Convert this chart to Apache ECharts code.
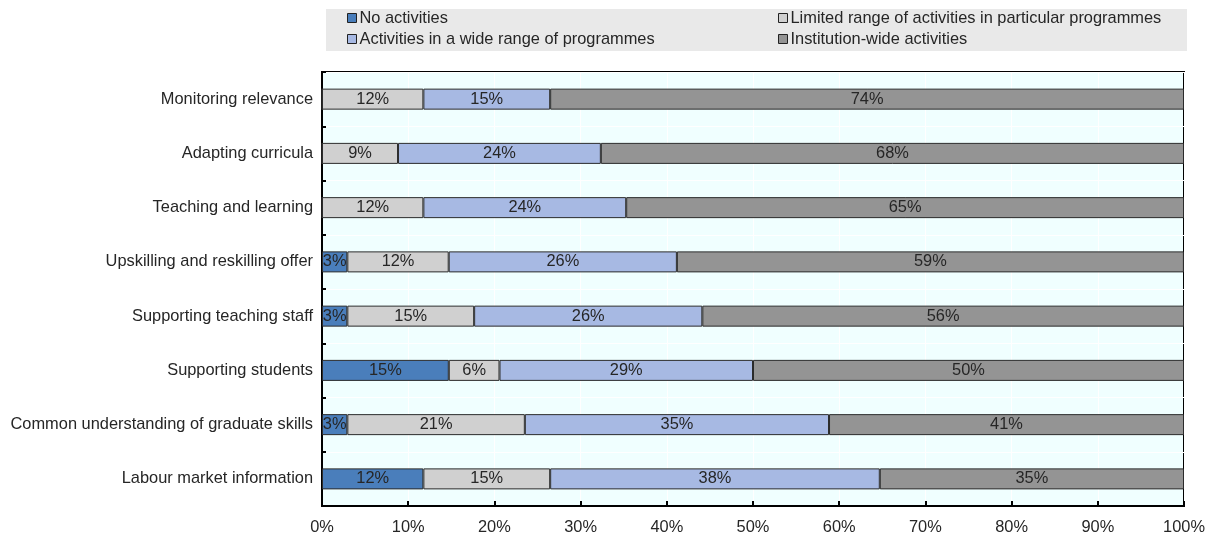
<!DOCTYPE html>
<html>
<head>
<meta charset="utf-8">
<script src="https://cdn.jsdelivr.net/npm/echarts@6/dist/echarts.min.js"></script>
<style>html,body{margin:0;padding:0;background:#fff}#c{width:1213px;height:540px}</style>
</head>
<body>
<div id="c"></div>
<script>
var categories = ["Monitoring relevance","Adapting curricula","Teaching and learning","Upskilling and reskilling offer","Supporting teaching staff","Supporting students","Common understanding of graduate skills","Labour market information"];
var seriesNames = ["No activities","Limited range of activities in particular programmes","Activities in a wide range of programmes","Institution-wide activities"];
var noActivities   = [0, 0, 0, 2.94, 2.94, 14.71, 2.94, 11.76];
var limitedRange   = [11.76, 8.82, 11.76, 11.76, 14.71, 5.88, 20.59, 14.71];
var wideRange      = [14.71, 23.53, 23.53, 26.47, 26.47, 29.41, 35.29, 38.24];
var institutionWide= [73.53, 67.65, 64.71, 58.82, 55.88, 50.00, 41.18, 35.29];
var xTicks = [0,10,20,30,40,50,60,70,80,90,100];

var colors = ["#4A7EBB","#D0D0D0","#A7B9E3","#949494"];
var FONT = "'Liberation Sans', Arial, sans-serif";
var FS = 16.4;
var valuesList = [noActivities, limitedRange, wideRange, institutionWide];

var chart = echarts.init(document.getElementById('c'));
var series = seriesNames.map(function(n,i){
  return {
    name: n, type: 'bar', stack: 'all', barWidth: 21,
    data: valuesList[i],
    itemStyle: {color: colors[i], borderColor: '#2b2b2b', borderWidth: 1},
    label: {show: true, position: 'inside', color: '#262626', fontFamily: FONT, fontSize: FS,
      formatter: function(p){ return p.value > 0 ? Math.round(p.value) + '%' : ''; }},
    emphasis: {disabled: true}
  };
});
var legendPos = [[347,10],[778,10],[347,31],[778,31]];
var legends = seriesNames.map(function(n,i){
  return {data:[n], left: legendPos[i][0], top: legendPos[i][1], padding: 0,
    icon: 'rect', itemWidth: 9, itemHeight: 9, itemGap: 0,
    itemStyle: {borderColor: '#222', borderWidth: 1},
    textStyle: {fontFamily: FONT, fontSize: FS, color: '#262626', padding: [0,0,0,-2]},
    selectedMode: false};
});
chart.setOption({
  animation: false,
  graphic: [{type: 'rect', shape: {x: 326, y: 9, width: 861, height: 42}, style: {fill: '#E9E9E9'}, z: -1}],
  legend: legends,
  grid: {left: 322, right: 29, top: 72, bottom: 34, show: true, backgroundColor: '#F0FFFF', borderColor: '#000', borderWidth: 2},
  xAxis: {type: 'value', min: 0, max: 100, interval: 10,
    axisLine: {show: true, lineStyle: {color: '#000', width: 2}},
    axisTick: {show: true, inside: true, length: 5, lineStyle: {color: '#000', width: 2}},
    splitLine: {show: true, lineStyle: {color: '#fff', width: 1}},
    axisLabel: {formatter: function(v){ return xTicks.indexOf(v) >= 0 ? v + '%' : ''; }, color: '#262626', fontFamily: FONT, fontSize: FS, margin: 13}},
  yAxis: {type: 'category', data: categories, inverse: true,
    axisLine: {show: true, lineStyle: {color: '#000', width: 2}},
    axisTick: {show: true, inside: true, length: 4, interval: 0, lineStyle: {color: '#000', width: 2}},
    splitLine: {show: true, interval: 0, lineStyle: {color: '#fff', width: 1}},
    axisLabel: {color: '#262626', fontFamily: FONT, fontSize: FS, margin: 9}},
  series: series
});
</script>
</body>
</html>
